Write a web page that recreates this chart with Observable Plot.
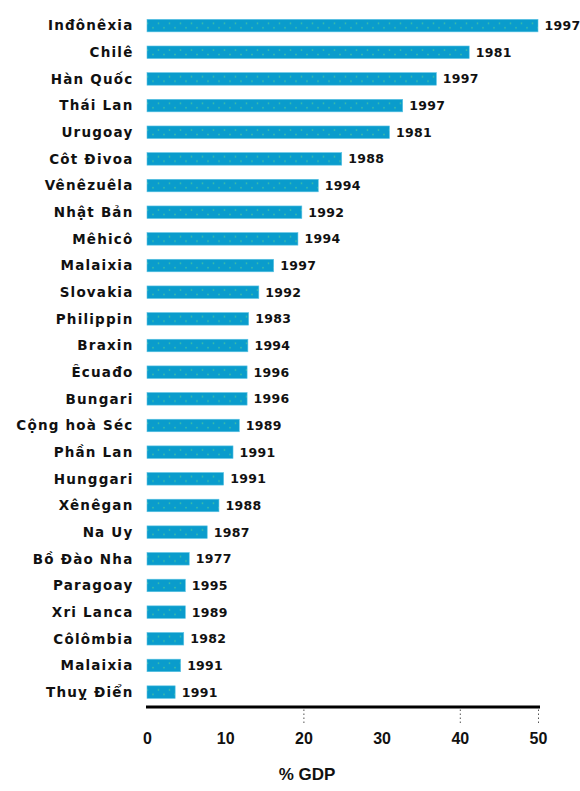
<!DOCTYPE html>
<html>
<head>
<meta charset="utf-8">
<script src="https://cdn.jsdelivr.net/npm/d3@7"></script>
<script src="https://cdn.jsdelivr.net/npm/@observablehq/plot@0.6"></script>
<style>
  html, body { margin: 0; padding: 0; background: #fff; }
  #chart svg { display: block; }
  #chart g[aria-label="y-axis tick label"] text { letter-spacing: 1.2px; }
  #chart g.yearlab text { letter-spacing: 0.3px; }
</style>
</head>
<body>
<div id="chart"></div>
<script>
const countries = ["Inđônêxia", "Chilê", "Hàn Quốc", "Thái Lan", "Urugoay", "Côt Đivoa", "Vênêzuêla", "Nhật Bản", "Mêhicô", "Malaixia", "Slovakia", "Philippin", "Braxin", "Êcuađo", "Bungari", "Cộng hoà Séc", "Phần Lan", "Hunggari", "Xênêgan", "Na Uy", "Bồ Đào Nha", "Paragoay", "Xri Lanca", "Côlômbia", "Malaixia", "Thuỵ Điển"];
const years = ["1997", "1981", "1997", "1997", "1981", "1988", "1994", "1992", "1994", "1997", "1992", "1983", "1994", "1996", "1996", "1989", "1991", "1991", "1988", "1987", "1977", "1995", "1989", "1982", "1991", "1991"];
const costs = [50, 41.2, 37, 32.7, 31, 24.9, 21.9, 19.8, 19.3, 16.2, 14.3, 13, 12.9, 12.8, 12.8, 11.8, 11, 9.8, 9.2, 7.7, 5.4, 4.9, 4.9, 4.7, 4.3, 3.6];
const xTicks = [0, 10, 20, 30, 40, 50];
const dottedTicks = [20, 40, 50];
const xLabel = "% GDP";

const data = countries.map((c, i) => ({i, country: c, year: years[i], cost: costs[i]}));

const W = 580, H = 791;
const labelFont = "'DejaVu Sans', sans-serif";
const numFont = "'Liberation Sans', Arial, sans-serif";

const svg = Plot.plot({
  width: W,
  height: H,
  marginLeft: 147,
  marginRight: 42,
  marginTop: 5.2,
  marginBottom: 78.5,
  style: {fontFamily: labelFont, color: "#111", background: "#fff"},
  x: {domain: [0, 50]},
  y: {domain: d3.range(countries.length), padding: 0.53, round: false},
  marks: [
    Plot.barX(data, {x: "cost", y: "i", fill: "url(#dotfill)", stroke: "#5cc4e4", strokeWidth: 0.6}),
    Plot.text(data, {x: "cost", y: "i", text: "year", textAnchor: "start", dx: 6, fontSize: 12.5, fontWeight: "bold", fill: "#111", className: "yearlab"}),
    Plot.axisY({tickSize: 0, tickPadding: 14, tickFormat: i => countries[i], fontSize: 13.5, fontWeight: "bold", label: null}),
    Plot.frame({anchor: "bottom", strokeWidth: 3, stroke: "#000", dy: -6}),
    Plot.axisX({ticks: dottedTicks, tickSize: 14, dy: -3, tickFormat: () => "", strokeDasharray: "1.5,2.5", stroke: "#555", label: null}),
    Plot.axisX({ticks: xTicks, tickSize: 0, tickPadding: 20, fontSize: 16, fontWeight: "bold", fontFamily: numFont, label: null}),
    Plot.text([xLabel], {frameAnchor: "bottom", dx: -36, dy: 67, fontSize: 17, fontWeight: "bold", fontFamily: numFont, fill: "#111"})
  ]
});

// dotted fill pattern for bars
const ns = "http://www.w3.org/2000/svg";
const defs = document.createElementNS(ns, "defs");
const pat = document.createElementNS(ns, "pattern");
pat.setAttribute("id", "dotfill");
pat.setAttribute("patternUnits", "userSpaceOnUse");
pat.setAttribute("x", "2");
pat.setAttribute("y", "19.33");
pat.setAttribute("width", "11");
pat.setAttribute("height", String(707.3 / 26.53));
const bg = document.createElementNS(ns, "rect");
bg.setAttribute("width", "11"); bg.setAttribute("height", "30");
bg.setAttribute("fill", "#0a9ccc");
pat.appendChild(bg);
[[2.5, 4], [8, 8.5]].forEach(([cx, cy]) => {
  const c = document.createElementNS(ns, "circle");
  c.setAttribute("cx", cx); c.setAttribute("cy", cy); c.setAttribute("r", "0.9");
  c.setAttribute("fill", "#3fc0a6");
  pat.appendChild(c);
});
defs.appendChild(pat);
svg.insertBefore(defs, svg.firstChild);

document.getElementById("chart").appendChild(svg);
</script>
</body>
</html>
